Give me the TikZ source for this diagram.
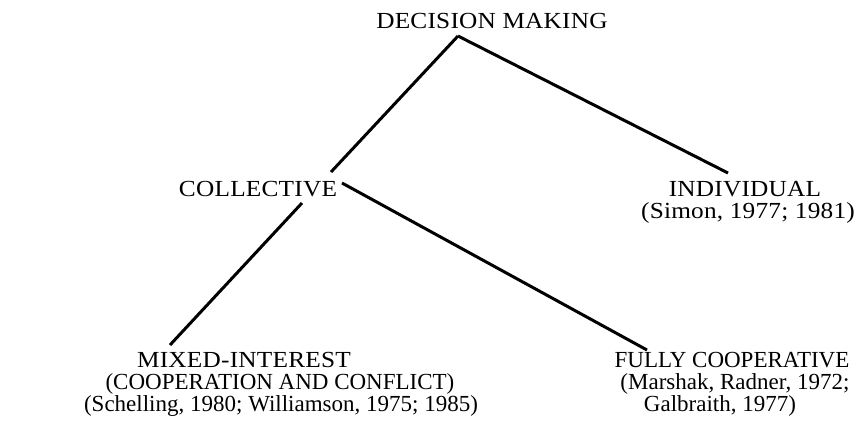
\documentclass[tikz,border=0pt]{standalone}
\usepackage{fontspec}
\setmainfont{Liberation Serif}
\newfontfamily\headfont[FakeStretch=1.1,LetterSpace=1]{Liberation Serif}
\newfontfamily\citefont{Liberation Serif}

\begin{document}
\begin{tikzpicture}[x=1pt,y=-1pt,
  every node/.style={inner sep=0pt,anchor=base},
  head/.style={font=\headfont\fontsize{23}{22}\selectfont},
  cite/.style={font=\citefont\fontsize{23}{22}\selectfont},
  branch/.style={line width=3pt}]
  \useasboundingbox (0,0) rectangle (868,437);

  % Levels
  \node[head] (dm) at (492,28) {DECISION MAKING};
  \node[head] (coll) at (258,196) {COLLECTIVE};
  \node[head] (ind) at (745,196) {INDIVIDUAL};
  \node[head] (simon) at (748,218) {(Simon, 1977; 1981)};
  \node[head] (mix) at (244,367) {MIXED-INTEREST};
  \node[cite] (coop) at (280,389) {(COOPERATION AND CONFLICT)};
  \node[cite] (schel) at (281,411) {(Schelling, 1980; Williamson, 1975; 1985)};
  \node[cite] (fully) at (732,367) {FULLY COOPERATIVE};
  \node[cite] (marsh) at (735,389) {(Marshak, Radner, 1972;};
  \node[cite] (galb) at (720,411) {Galbraith, 1977)};

  % Branch ends
  \coordinate (dmfoot) at (458,36);
  \coordinate (collup) at (331,172);
  \coordinate (colldown) at (302,203);
  \coordinate (collright) at (342,183);
  \coordinate (indtop) at (728,173);
  \coordinate (mixtop) at (170,345);
  \coordinate (fulltop) at (647,350);

  % Branches
  \foreach \from/\to in {dmfoot/collup, dmfoot/indtop, colldown/mixtop, collright/fulltop}
    \draw[branch] (\from) -- (\to);
\end{tikzpicture}
\end{document}
